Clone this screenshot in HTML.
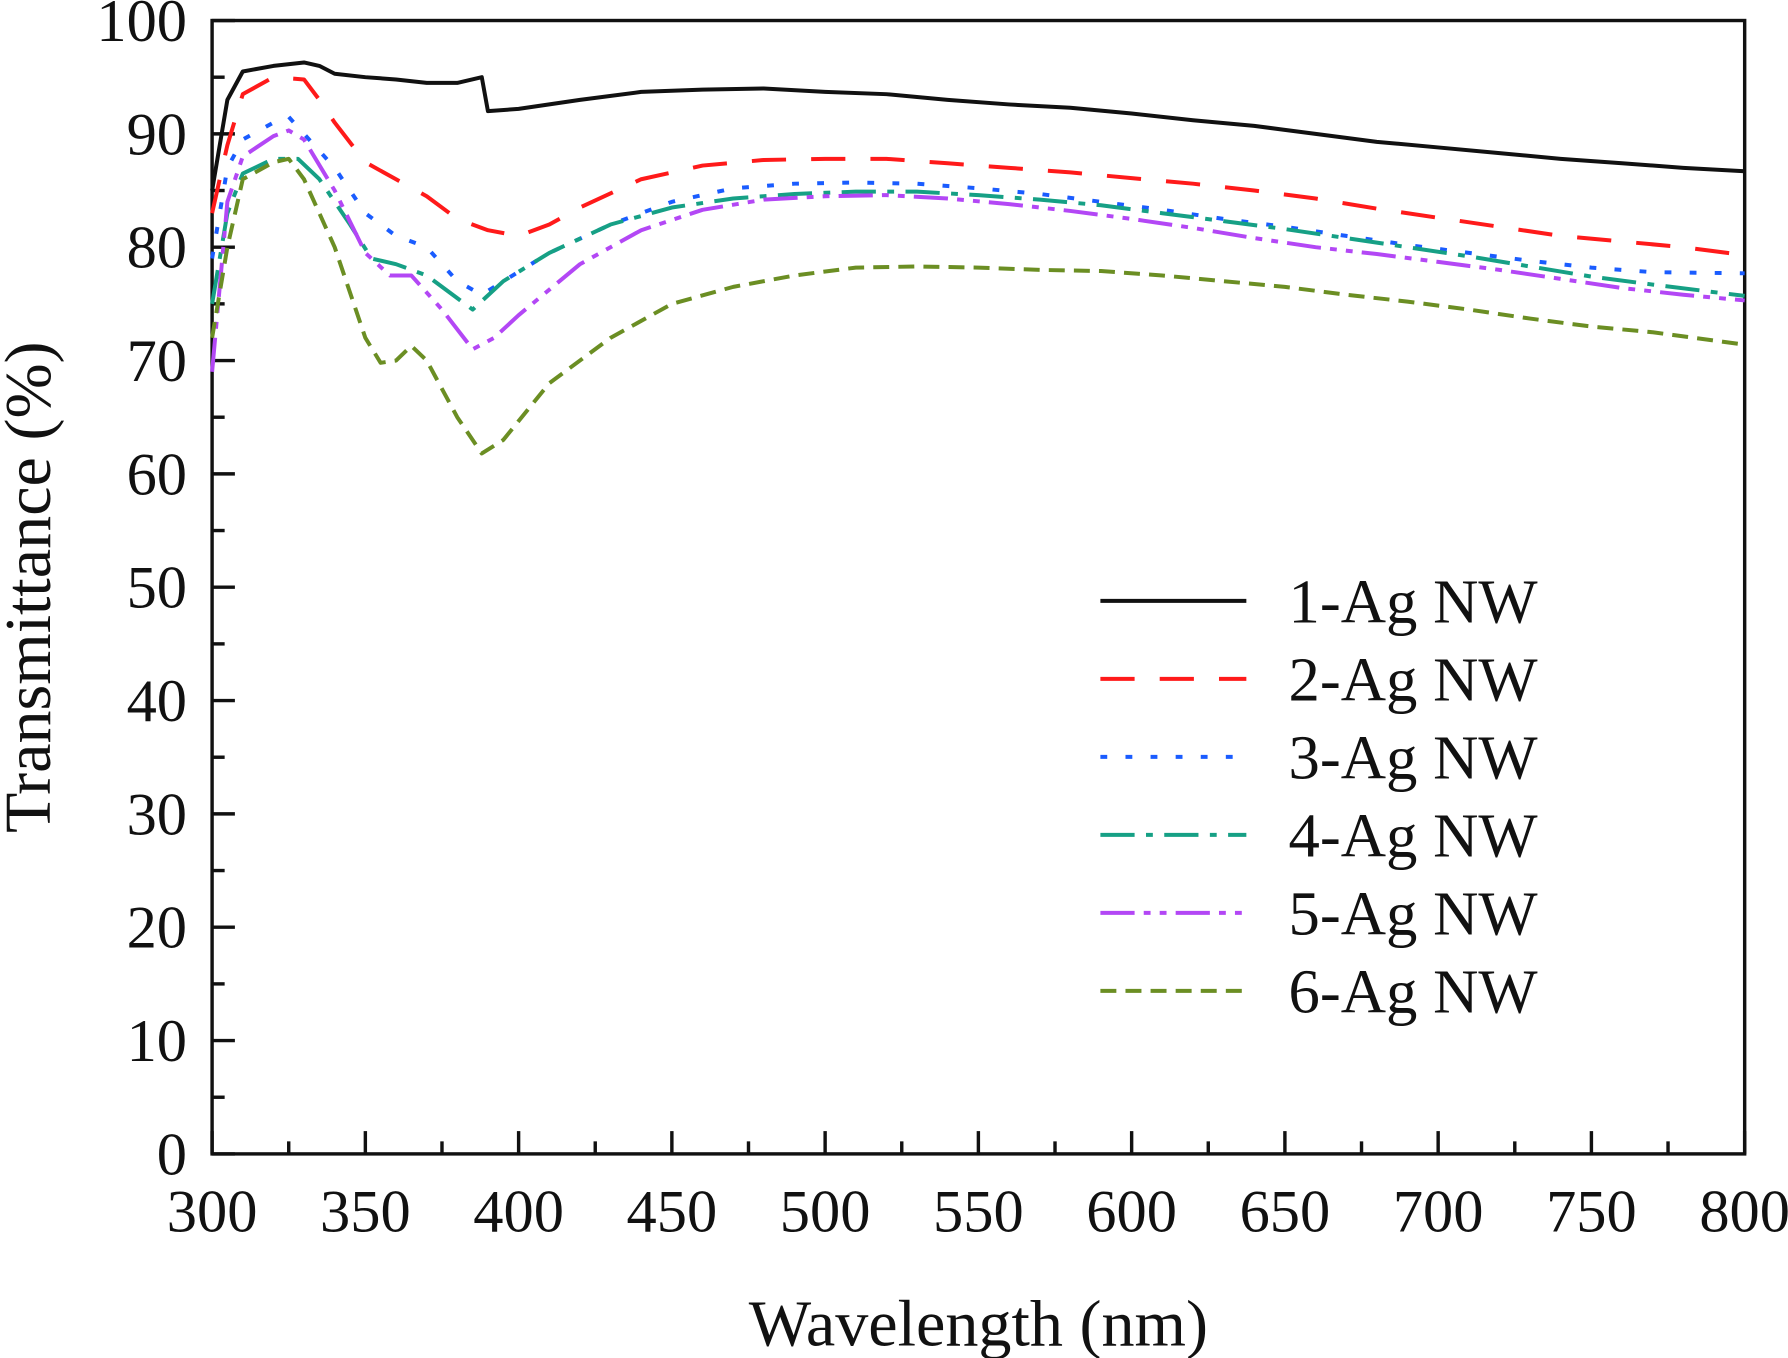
<!DOCTYPE html>
<html><head><meta charset="utf-8"><style>
html,body{margin:0;padding:0;background:#fff}
svg{display:block}
text{font-family:"Liberation Serif",serif;fill:#111}
</style></head><body>
<svg id="chart" width="1788" height="1358" viewBox="0 0 1568 1191" preserveAspectRatio="none" xmlns="http://www.w3.org/2000/svg">
<g id="axes"></g><g id="series"></g><g id="legend"></g>
</svg>
<script>
const xTicks=[300,350,400,450,500,550,600,650,700,750,800];
const yTicks=[0,10,20,30,40,50,60,70,80,90,100];
const seriesNames=["1-Ag NW","2-Ag NW","3-Ag NW","4-Ag NW","5-Ag NW","6-Ag NW"];
const s1x=[300,305,310,320,330,335,340,350,360,370,380,388,390,400,420,440,460,480,500,520,540,560,580,600,620,640,660,680,700,720,740,760,780,800];
const s1y=[85,93,95.5,96,96.3,96,95.3,95,94.8,94.5,94.5,95,92,92.2,93,93.7,93.9,94,93.7,93.5,93,92.6,92.3,91.8,91.2,90.7,90,89.3,88.8,88.3,87.8,87.4,87,86.7];
const s2x=[300,305,310,320,330,335,340,350,360,370,380,390,400,410,420,440,460,480,500,520,540,560,580,600,620,640,660,680,700,720,740,760,780,800];
const s2y=[83,89,93.5,95,94.8,93,91,87.5,86,84.5,82.5,81.5,81,82,83.5,86,87.2,87.7,87.8,87.8,87.4,87,86.6,86.1,85.6,85,84.3,83.4,82.6,81.8,81,80.5,80,79.3];
const s3x=[300,305,310,320,325,330,340,350,360,370,380,388,395,410,430,450,470,490,510,530,550,570,590,610,630,650,670,690,710,730,750,770,800];
const s3y=[79,87,89.5,91,91.5,90,87,83,81,80,77,75.8,77,79.5,82,84,85.2,85.6,85.7,85.6,85.2,84.7,84,83.3,82.5,81.8,81,80.2,79.5,78.8,78.2,77.8,77.7];
const s4x=[300,305,310,320,328,335,345,352,360,370,385,395,410,430,450,470,490,510,530,550,570,590,610,630,650,670,690,710,730,750,770,800];
const s4y=[75,83,86.5,87.8,87.8,86,82,79,78.5,77.5,74.5,77,79.5,82,83.5,84.3,84.7,84.9,84.9,84.6,84.2,83.7,83,82.3,81.6,80.8,80,79.2,78.3,77.4,76.7,75.7];
const s5x=[300,305,310,320,325,330,340,350,358,365,375,385,392,400,420,440,460,480,500,520,540,560,580,600,620,640,660,680,700,720,740,760,780,800];
const s5y=[69,84,88,89.8,90.3,89.5,85,79.5,77.5,77.5,74.5,71,72,74,78.5,81.5,83.3,84.2,84.5,84.6,84.3,83.8,83.2,82.5,81.7,80.8,80,79.4,78.7,78,77.2,76.4,75.8,75.3];
const s6x=[300,305,310,320,325,330,340,350,355,360,365,370,380,388,395,410,430,450,470,490,510,530,550,570,590,610,630,650,670,690,710,730,750,770,800];
const s6y=[72,80,86,87.5,87.8,86,80,72,69.8,70,71.3,70,65,61.8,63,68,72,75,76.5,77.5,78.2,78.3,78.2,78,77.9,77.5,77,76.5,75.8,75.2,74.5,73.7,73,72.5,71.4];
const NS="http://www.w3.org/2000/svg";
const L=186,R=1530,T=18,B=1012;
const X=v=>L+(v-300)/500*(R-L);
const Y=v=>B-v/100*(B-T);
function mk(tag,attrs,parent,txt){const e=document.createElementNS(NS,tag);for(const k in attrs)e.setAttribute(k,attrs[k]);if(txt!==undefined)e.textContent=txt;parent.appendChild(e);return e;}
const axes=document.getElementById('axes');
const frame=mk('rect',{x:L,y:T,width:R-L,height:B-T,fill:'none',stroke:'#111','stroke-width':3},axes);


for(let i=0;i<xTicks.length;i++){
  const v=xTicks[i];
  const t=mk('line',{x1:X(v),x2:X(v),y1:B,y2:B-20,stroke:'#111','stroke-width':3},axes);
  
  
  if(i<xTicks.length-1){const m=mk('line',{x1:X(v+25),x2:X(v+25),y1:B,y2:B-11,stroke:'#111','stroke-width':3},axes);
  
  }
  const lb=mk('text',{x:X(v),y:1080,'font-size':53,'text-anchor':'middle'},axes,String(v));
  
  
}
for(let i=0;i<yTicks.length;i++){
  const v=yTicks[i];
  const t=mk('line',{x1:L,x2:L+20,y1:Y(v),y2:Y(v),stroke:'#111','stroke-width':3},axes);
  
  
  if(i<yTicks.length-1){const m=mk('line',{x1:L,x2:L+11,y1:Y(v+5),y2:Y(v+5),stroke:'#111','stroke-width':3},axes);
  
  }
  const lb=mk('text',{x:164,y:Y(v)+18,'font-size':53,'text-anchor':'end'},axes,String(v));
  
  
}
const xt=mk('text',{x:858,y:1180,'font-size':58,'text-anchor':'middle'},axes,'Wavelength (nm)');


const yt=mk('text',{x:0,y:0,'font-size':58,'text-anchor':'middle',transform:'translate(44,515) rotate(-90)'},axes,'Transmittance (%)');


const colors=['#111','#ff1a1a','#1a5cff','#16a085','#b347f5','#6b8e23'];
const dashes=['none','30 22','6 16','30 10 6 10','30 8 6 8 6 8','14 8'];
const xs=[s1x,s2x,s3x,s4x,s5x,s6x], ys=[s1y,s2y,s3y,s4y,s5y,s6y];
const sg=document.getElementById('series'), lg=document.getElementById('legend');
for(let s=0;s<6;s++){
  const d=xs[s].map((v,i)=>(i?'L':'M')+X(v).toFixed(1)+','+Y(ys[s][i]).toFixed(1)).join(' ');
  const p=mk('path',{d:d,fill:'none',stroke:colors[s],'stroke-width':3.5,'stroke-dasharray':dashes[s],'stroke-linejoin':'round'},sg);
  
  
  const ly=527+s*68.4;
  const ll=mk('line',{x1:965,x2:1093,y1:ly,y2:ly,stroke:colors[s],'stroke-width':3.5,'stroke-dasharray':dashes[s]},lg);
  
  
  const lt=mk('text',{x:1130,y:ly+19,'font-size':55},lg,seriesNames[s]);
  
  
}
</script>
</body></html>
